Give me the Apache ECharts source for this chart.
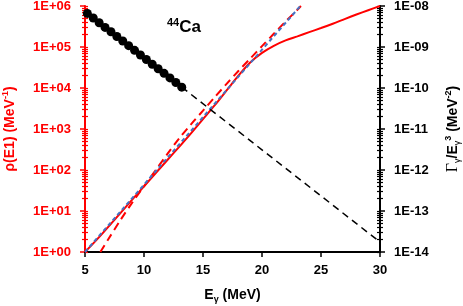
<!DOCTYPE html>
<html><head><meta charset="utf-8">
<script src="https://cdn.jsdelivr.net/npm/echarts@6/dist/echarts.min.js"></script>
<style>html,body{margin:0;padding:0;background:#fff}#c{width:463px;height:306px}</style>
</head><body><div id="c"></div>
<script>
// Level density (left axis)
const solidE   = [5, 6, 8, 10, 12, 13, 14, 15, 16, 17, 18, 19, 20, 21, 22, 23, 24, 25, 26, 27, 28, 29, 30];
const solidRho = [1.0, 2.0, 8.9, 40, 178, 372, 794, 1740, 3800, 8700, 2.0e4, 4.2e4, 7.2e4, 1.07e5, 1.45e5, 1.82e5, 2.3e5, 2.9e5, 3.7e5, 4.8e5, 6.2e5, 7.9e5, 1.0e6];
const dashE    = [6.3, 7, 8, 9, 10, 11, 12, 13, 14, 15, 16, 17, 18, 19, 20, 21, 22, 23, 23.3];
const dashRho  = [1.0, 2.1, 6.0, 16, 40, 100, 250, 600, 1320, 2800, 6000, 1.26e4, 2.6e4, 5.2e4, 1.05e5, 2.1e5, 4.2e5, 8.1e5, 1.0e6];
const blueE    = [5, 10, 15, 20, 23.25];
const blueRho  = [1.0, 44, 1950, 8.6e4, 1.0e6];
// Gamma strength (right axis)
const dotE     = [5.2, 5.7, 6.2, 6.7, 7.2, 7.7, 8.2, 8.7, 9.2, 9.7, 10.2, 10.7, 11.2, 11.7, 12.2, 12.7, 13.2];
const dotG     = [6.6e-9, 5.1e-9, 3.9e-9, 3.0e-9, 2.35e-9, 1.8e-9, 1.4e-9, 1.08e-9, 8.3e-10, 6.4e-10, 4.95e-10, 3.8e-10, 2.95e-10, 2.28e-10, 1.76e-10, 1.36e-10, 1.05e-10];
const extE     = [13.2, 30];
const extG     = [1.05e-10, 1.75e-14];
const xTicks   = [5, 10, 15, 20, 25, 30];

const pairs = (xs, ys) => xs.map((x, i) => [x, ys[i]]);
const FONT = "'Liberation Sans', Arial, sans-serif";
const fmtExp = v => { const e = Math.round(Math.log10(v)); return '1E' + (e < 0 ? '-' : '+') + String(Math.abs(e)).padStart(2, '0'); };
const minorPos = [];
for (let d = 0; d < 6; d++) for (let k = 2; k <= 9; k++) minorPos.push(d + Math.log10(k));
const allPos = minorPos.concat([0,1,2,3,4,5,6]);

function tickAxis(pos, color, inside, len, vals) {
  return { type: 'value', position: pos, min: 0, max: 6, show: true,
    axisLine: { show: false }, axisLabel: { show: false }, splitLine: { show: false },
    axisTick: { show: true, inside: inside, length: len, customValues: vals, lineStyle: { color: color, width: 1.2 } } };
}

const chart = echarts.init(document.getElementById('c'), null, { renderer: 'canvas' });
chart.setOption({
  animation: false,
  backgroundColor: '#fff',
  title: { left: 162, top: 12, text: '{sup|44}{b|Ca}',
    textStyle: { rich: {
      sup: { fontFamily: FONT, fontWeight: 'bold', fontSize: 11, color: '#000', verticalAlign: 'top', lineHeight: 20 },
      b: { fontFamily: FONT, fontWeight: 'bold', fontSize: 17, color: '#000', lineHeight: 20 } } } },
  grid: { left: 85, right: 83, top: 6, bottom: 54, outerBoundsMode: 'none', containLabel: false },
  xAxis: [
    { type: 'value', min: 5, max: 30, interval: 5,
      axisLine: { lineStyle: { color: '#000', width: 2 } },
      axisTick: { show: true, length: 5, lineStyle: { color: '#000', width: 1.5 } },
      axisLabel: { margin: 12, fontFamily: FONT, fontWeight: 'bold', fontSize: 13, color: '#000' },
      splitLine: { show: false },
      name: '{b|E}{sub|γ}{b| (MeV)}', nameLocation: 'middle', nameGap: 34,
      nameTextStyle: { rich: {
        b: { fontFamily: FONT, fontWeight: 'bold', fontSize: 14, color: '#000', lineHeight: 18 },
        sub: { fontFamily: FONT, fontWeight: 'bold', fontSize: 9, color: '#000', verticalAlign: 'bottom', lineHeight: 18 } } } },
    { type: 'value', min: 5, max: 30, position: 'top', show: true,
      axisLine: { lineStyle: { color: '#000', width: 2 } }, axisTick: { show: false }, axisLabel: { show: false }, splitLine: { show: false } }
  ],
  yAxis: [
    { type: 'log', logBase: 10, min: 1, max: 1e6, splitNumber: 6, position: 'left',
      axisLine: { show: true, lineStyle: { color: '#f00', width: 2 } },
      axisTick: { show: true, length: 5, lineStyle: { color: '#f00', width: 1.5 } },
      axisLabel: { margin: 14, formatter: fmtExp, fontFamily: FONT, fontWeight: 'bold', fontSize: 13, color: '#f00' },
      splitLine: { show: false },
      name: '{b|ρ(E1) (MeV}{sup|-1}{b|)}', nameLocation: 'middle', nameRotate: 90, nameGap: 66,
      nameTextStyle: { rich: {
        b: { fontFamily: FONT, fontWeight: 'bold', fontSize: 14, color: '#f00', lineHeight: 18 },
        sup: { fontFamily: FONT, fontWeight: 'bold', fontSize: 9, color: '#f00', verticalAlign: 'top', lineHeight: 18 } } } },
    { type: 'log', logBase: 10, min: 1e-14, max: 1e-8, splitNumber: 6, position: 'right',
      axisLine: { show: true, lineStyle: { color: '#000', width: 2 } },
      axisTick: { show: true, length: 5, lineStyle: { color: '#000', width: 1.5 } },
      axisLabel: { margin: 14, formatter: fmtExp, fontFamily: FONT, fontWeight: 'bold', fontSize: 13, color: '#000' },
      splitLine: { show: false },
      name: '{g|Γ}{sub|γ}{b|/E}{sub|γ}{sup|3}{b| (MeV}{sup|-2}{b|)}', nameLocation: 'middle', nameRotate: 90, nameGap: 64,
      nameTextStyle: { rich: {
        g: { fontFamily: "'Liberation Serif', serif", fontSize: 16, color: '#000', lineHeight: 18 },
        b: { fontFamily: FONT, fontWeight: 'bold', fontSize: 14, color: '#000', lineHeight: 18 },
        sub: { fontFamily: FONT, fontSize: 9, color: '#000', verticalAlign: 'bottom', lineHeight: 18 },
        sup: { fontFamily: FONT, fontWeight: 'bold', fontSize: 9, color: '#000', verticalAlign: 'top', lineHeight: 18 } } } },
    tickAxis('left', '#f00', true, 3, allPos),
    tickAxis('left', '#f00', false, 3, minorPos),
    tickAxis('right', '#000', true, 3, allPos),
    tickAxis('right', '#000', false, 3, minorPos)
  ],
  series: [
    { type: 'line', yAxisIndex: 0, data: pairs(solidE, solidRho), smooth: 0.3, showSymbol: false, symbol: 'none',
      lineStyle: { color: '#f00', width: 2 }, z: 2 },
    { type: 'line', yAxisIndex: 0, data: pairs(dashE, dashRho), smooth: 0.3, showSymbol: false, symbol: 'none',
      lineStyle: { color: '#f00', width: 2, type: [8, 5] }, z: 3 },
    { type: 'line', yAxisIndex: 0, data: pairs(blueE, blueRho), showSymbol: false, symbol: 'none',
      lineStyle: { color: '#4472C4', width: 2, type: [4, 3] }, z: 4 },
    { type: 'line', yAxisIndex: 1, data: pairs(extE, extG), showSymbol: false, symbol: 'none',
      lineStyle: { color: '#000', width: 1.5, type: [7, 5] }, z: 5 },
    { type: 'scatter', yAxisIndex: 1, data: pairs(dotE, dotG), symbol: 'circle', symbolSize: 9,
      itemStyle: { color: '#000', opacity: 1 }, z: 6 }
  ]
});
</script></body></html>
